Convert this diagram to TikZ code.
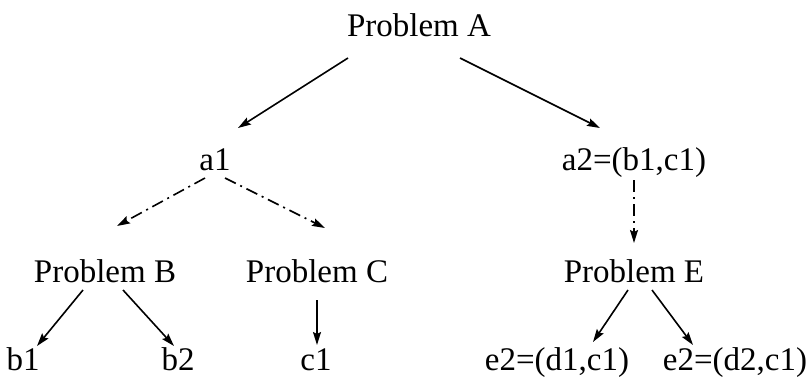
\documentclass[tikz,border=0pt]{standalone}
\usepackage{fontspec}
\setmainfont{Liberation Serif}
\usetikzlibrary{arrows.meta}
\begin{document}
\begin{tikzpicture}[x=1pt,y=-1pt,
  lbl/.style={anchor=base,inner sep=0pt,font=\fontsize{33}{40}\selectfont},
  arr/.style={line width=1.6pt,-{Stealth[length=13pt,width=8pt,inset=2pt]}},
  dd/.style={arr,dash pattern=on 12pt off 5pt on 2pt off 5pt}]
\useasboundingbox (0,0) rectangle (806,383);
\node[lbl] (A) at (419,36) {Problem A};
\node[lbl] (a1) at (215,170) {a1};
\node[lbl] (a2) at (634,170) {a2=(b1,c1)};
\node[lbl] (B) at (105,282) {Problem B};
\node[lbl] (C) at (317,282) {Problem C};
\node[lbl] (E) at (634,282) {Problem E};
\node[lbl] (b1) at (23,370) {b1};
\node[lbl] (b2) at (178,370) {b2};
\node[lbl] (c1) at (316,370) {c1};
\node[lbl] (e21) at (557,370) {e2=(d1,c1)};
\node[lbl] (e22) at (735,370) {e2=(d2,c1)};
\draw[arr] ([shift={(-71,22)}]A.base) -- ([shift={(23,-42)}]a1.base);
\draw[arr] ([shift={(41,22)}]A.base) -- ([shift={(-34,-42)}]a2.base);
\draw[dd] ([shift={(-10,8)}]a1.base) -- ([shift={(12,-56)}]B.base);
\draw[dd] ([shift={(10,8)}]a1.base) -- ([shift={(8,-54)}]C.base);
\draw[dd] ([shift={(0,10)}]a2.base) -- ([shift={(0,-39)}]E.base);
\draw[arr] ([shift={(-22,8)}]B.base) -- ([shift={(14,-24)}]b1.base);
\draw[arr] ([shift={(18,8)}]B.base) -- ([shift={(-4,-24)}]b2.base);
\draw[arr] ([shift={(0,18)}]C.base) -- ([shift={(1,-25)}]c1.base);
\draw[arr] ([shift={(-6,8)}]E.base) -- ([shift={(36,-28)}]e21.base);
\draw[arr] ([shift={(18,8)}]E.base) -- ([shift={(-42,-25)}]e22.base);
\end{tikzpicture}
\end{document}
